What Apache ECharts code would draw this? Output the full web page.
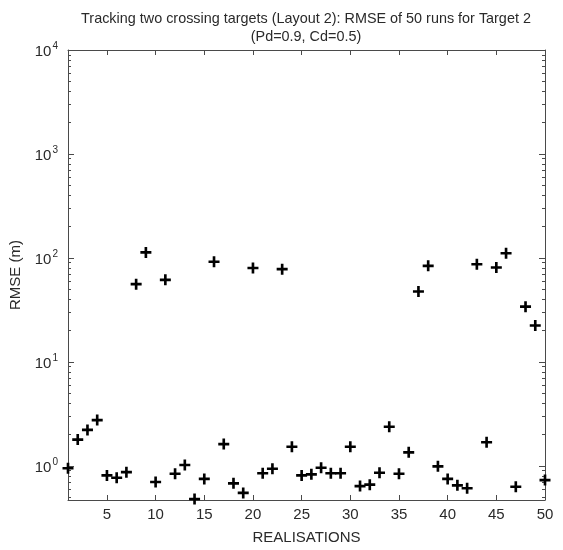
<!DOCTYPE html>
<html>
<head>
<meta charset="utf-8">
<script src="https://cdn.jsdelivr.net/npm/echarts@6/dist/echarts.min.js"></script>
<style>
html,body{margin:0;padding:0;background:#fff;}
#c{width:563px;height:550px;}
</style>
</head>
<body>
<div id="c"></div>
<script>
const realisations = [1,2,3,4,5,6,7,8,9,10,11,12,13,14,15,16,17,18,19,20,21,22,23,24,25,26,27,28,29,30,31,32,33,34,35,36,37,38,39,40,41,42,43,44,45,46,47,48,49,50];
const rmse = [0.95,1.79,2.22,2.76,0.81,0.77,0.87,56,113,0.70,
              61.6,0.84,1.02,0.48,0.75,92,1.62,0.68,0.55,80,
              0.85,0.94,78,1.53,0.81,0.83,0.96,0.85,0.85,1.53,
              0.64,0.66,0.86,2.38,0.84,1.35,47.6,84,0.99,0.75,
              0.65,0.61,87,1.69,81,111,0.63,34,22.4,0.73];
const xTicks = [5,10,15,20,25,30,35,40,45,50];
const yMajor = [1,10,100,1000,10000];
const yMinor = [0.5,0.6,0.7,0.8,0.9,2,3,4,5,6,7,8,9,20,30,40,50,60,70,80,90,200,300,400,500,600,700,800,900,2000,3000,4000,5000,6000,7000,8000,9000];
const yMin = 0.47, yMax = 10000;
const titleText = 'Tracking two crossing targets (Layout 2): RMSE of 50 runs for Target 2\n(Pd=0.9, Cd=0.5)';

const FONT = "'Liberation Sans',Arial,sans-serif";
const axisCol = '#4a4a4a';
const txtCol = '#2a2a2a';

const pts = realisations.map((r,i)=>[r, rmse[i]]);

function yLab(v){
  const l = Math.log10(v);
  const e = Math.round(l);
  if (Math.abs(l - e) > 1e-6) return '';
  return '{b|10}{s|' + e + '}';
}

function yAxisDef(pos, ticks, len, showLine, showLabel){
  return {
    type:'log', logBase:10, min:yMin, max:yMax, position:pos,
    axisLine:{show:showLine, lineStyle:{color:axisCol, width:1}},
    axisTick:{show:true, inside:true, length:len, customValues:ticks, lineStyle:{color:axisCol}},
    axisLabel:{show:showLabel, customValues: showLabel ? yMajor : undefined, formatter:yLab, margin:10,
      rich:{
        b:{fontFamily:FONT, fontSize:15, color:txtCol, verticalAlign:'bottom', lineHeight:18},
        s:{fontFamily:FONT, fontSize:10, color:txtCol, verticalAlign:'top', lineHeight:18, padding:[0,0,0,1]}
      }},
    splitLine:{show:false},
    name: showLabel ? 'RMSE (m)' : '',
    nameLocation:'middle', nameGap:41,
    nameTextStyle:{fontFamily:FONT, fontSize:15, color:txtCol}
  };
}

const chart = echarts.init(document.getElementById('c'), null, {renderer:'canvas'});
chart.setOption({
  animation:false,
  backgroundColor:'#fff',
  title:{
    text:titleText, left:306, top:10, padding:0, textAlign:'center',
    textStyle:{fontFamily:FONT, fontSize:14.4, fontWeight:'normal', color:txtCol, lineHeight:18}
  },
  grid:{left:68, right:18, top:50, bottom:49, containLabel:false},
  xAxis:[
    {type:'value', min:1, max:50, position:'bottom',
     axisLine:{lineStyle:{color:axisCol}},
     axisTick:{inside:true, length:5, customValues:xTicks, lineStyle:{color:axisCol}},
     axisLabel:{customValues:xTicks, fontFamily:FONT, fontSize:15, color:txtCol, margin:7},
     splitLine:{show:false},
     name:'REALISATIONS', nameLocation:'middle', nameGap:30,
     nameTextStyle:{fontFamily:FONT, fontSize:15, color:txtCol}},
    {type:'value', min:1, max:50, position:'top',
     axisLine:{lineStyle:{color:axisCol}},
     axisTick:{inside:true, length:5, customValues:xTicks, lineStyle:{color:axisCol}},
     axisLabel:{show:false},
     splitLine:{show:false}}
  ],
  yAxis:[
    yAxisDef('left', yMajor, 6, true, true),
    yAxisDef('left', yMinor, 3, false, false),
    yAxisDef('right', yMajor, 6, true, false),
    yAxisDef('right', yMinor, 3, false, false)
  ],
  series:[{
    type:'scatter', xAxisIndex:0, yAxisIndex:0,
    data:pts,
    symbol:'path://M3.8,0h2.4v3.8h3.8v2.4h-3.8v3.8h-2.4v-3.8h-3.8v-2.4h3.8z',
    symbolSize:11,
    itemStyle:{color:'#000', opacity:1},
    clip:false
  }]
});
</script>
</body>
</html>
